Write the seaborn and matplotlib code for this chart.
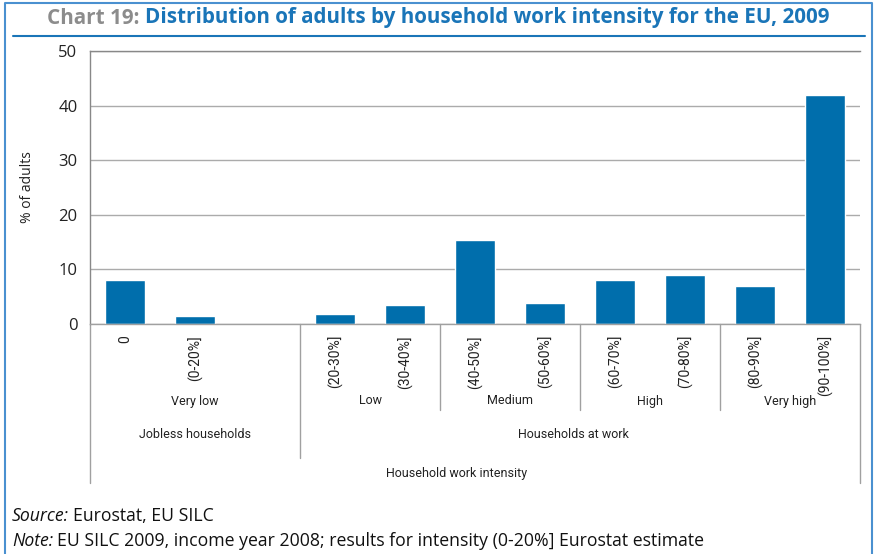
import numpy as np
import pandas as pd
import matplotlib
matplotlib.use("Agg")
import matplotlib.pyplot as plt
from matplotlib.lines import Line2D
import matplotlib.transforms as mtransforms
import seaborn as sns

# ---------------- data ----------------
categories = ["0", "(0-20%]", "", "(20-30%]", "(30-40%]", "(40-50%]", "(50-60%]",
              "(60-70%]", "(70-80%]", "(80-90%]", "(90-100%]"]
values = [8.0, 1.5, np.nan, 1.85, 3.5, 15.3, 3.9, 8.0, 8.9, 7.0, 42.0]
level1_labels = ["Very low", "Low", "Medium", "High", "Very high"]
level1_sizes = [3, 2, 2, 2, 2]
level2_labels = ["Jobless households", "Households at work"]
level2_sizes = [3, 8]
level3_label = "Household work intensity"
y_ticks = [0, 10, 20, 30, 40, 50]

df = pd.DataFrame({"cat": categories, "val": values}).dropna()

W, H = 875, 554
sns.set_theme(style="white")
plt.rcParams["font.family"] = ["Open Sans", "DejaVu Sans"]

fig = plt.figure(figsize=(W / 100, H / 100), dpi=100)
ax_left, ax_right, ax_top, ax_bottom = 90, 860, 51, 324
ax = fig.add_axes([ax_left / W, 1 - ax_bottom / H, (ax_right - ax_left) / W, (ax_bottom - ax_top) / H])

BLUE = "#006EAC"
sns.barplot(data=df, x="cat", y="val", order=categories, color=BLUE, width=0.58,
            saturation=1, ax=ax)
ax.set_xlim(-0.5, len(categories) - 0.5)
ax.set_ylim(0, 50)
ax.set_yticks(y_ticks)
ax.set_yticklabels([str(t) for t in y_ticks], fontsize=12, color="#222222")
ax.yaxis.grid(True, color="#ababab", lw=1)
ax.set_axisbelow(True)
ax.tick_params(axis="y", length=0, pad=9)
ax.tick_params(axis="x", length=0, pad=8)
ax.set_xticks(range(len(categories)))
narrow = ["Roboto", "DejaVu Sans"]
ax.set_xticklabels(categories, rotation=90, fontsize=10, family=narrow, color="#222222")
for t in ax.get_xticklabels():
    t.set_va("top")
ax.set_xlabel("")
ax.set_ylabel("% of adults", fontsize=10, color="#222222", labelpad=17)
ax.spines["right"].set_visible(False)
ax.spines["left"].set_color("#888888")
ax.spines["top"].set_color("#888888")
ax.spines["bottom"].set_color("#a0a0a0")
for s in ax.spines.values():
    s.set_linewidth(1)

# ---- multi-level category axis ----
trans = mtransforms.blended_transform_factory(ax.transData, ax.transAxes)
hpx = ax_bottom - ax_top
def ypx(p):
    return -(p - ax_bottom) / hpx

sep_col = "#a0a0a0"
edges1 = np.cumsum([0] + level1_sizes) - 0.5
edges2 = np.cumsum([0] + level2_sizes) - 0.5
for e in edges1[1:-1]:
    low = 458 if e in edges2 else 410
    ax.add_line(Line2D([e, e], [0, ypx(low)], transform=trans, color=sep_col, lw=1, clip_on=False))
for e in [edges1[0], edges1[-1]]:
    ax.add_line(Line2D([e, e], [0, ypx(483)], transform=trans, color=sep_col, lw=1, clip_on=False))

lab_kw = dict(transform=trans, ha="center", va="center", fontsize=9, family=narrow,
              color="#222222", clip_on=False)
for lab, a, b in zip(level1_labels, edges1[:-1], edges1[1:]):
    ax.text((a + b) / 2, ypx(401), lab, **lab_kw)
for lab, a, b in zip(level2_labels, edges2[:-1], edges2[1:]):
    ax.text((a + b) / 2 - (0.1 if b - a > 5 else 0), ypx(435), lab, **lab_kw)
ax.text(4.73, ypx(473), level3_label, **lab_kw)

# ---- title ----
fig.canvas.draw()
renderer = fig.canvas.get_renderer()
title_y = 1 - 18 / H
t1 = fig.text(0, title_y, "Chart 19: ", fontsize=15, fontweight="bold", color="#8c8c8c",
              va="center", ha="left", family=["Open Sans", "DejaVu Sans"])
t2 = fig.text(0, title_y, "Distribution of adults by household work intensity for the EU, 2009",
              fontsize=15, fontweight="bold", color="#1a75b8", va="center", ha="left",
              family=["Open Sans", "DejaVu Sans"])
w1 = t1.get_window_extent(renderer).width
w2 = t2.get_window_extent(renderer).width
target = 783
scale = target / (w1 + w2)
t1.set_fontsize(15 * scale)
t2.set_fontsize(15 * scale)
fig.canvas.draw()
w1 = t1.get_window_extent(renderer).width
x0 = 47
t1.set_x(x0 / W)
t2.set_x((x0 + w1) / W)

# underline + frame
fig.add_artist(Line2D([13 / W, 865 / W], [1 - 36 / H, 1 - 36 / H], transform=fig.transFigure,
                      color="#1a75b8", lw=1.5))
frame_col = "#4a90d0"
fig.add_artist(Line2D([5 / W, 5 / W, 872 / W, 872 / W], [0, 1 - 3 / H, 1 - 3 / H, 0],
                      transform=fig.transFigure, color=frame_col, lw=1.5))

# footer
fs = 12.7
s1 = fig.text(12 / W, 1 - 516 / H, "Source:", fontsize=fs, style="italic", color="#111111", va="center")
n1 = fig.text(12 / W, 1 - 541 / H, "Note:", fontsize=fs, style="italic", color="#111111", va="center")
fig.canvas.draw()
ws = s1.get_window_extent(renderer).width
wn = n1.get_window_extent(renderer).width
fig.text((12 + ws + 4) / W, 1 - 516 / H, "Eurostat, EU SILC", fontsize=fs, color="#111111", va="center")
fig.text((12 + wn + 4) / W, 1 - 541 / H,
         "EU SILC 2009, income year 2008; results for intensity (0-20%] Eurostat estimate",
         fontsize=fs, color="#111111", va="center")

fig.savefig("out.png", dpi=100)
